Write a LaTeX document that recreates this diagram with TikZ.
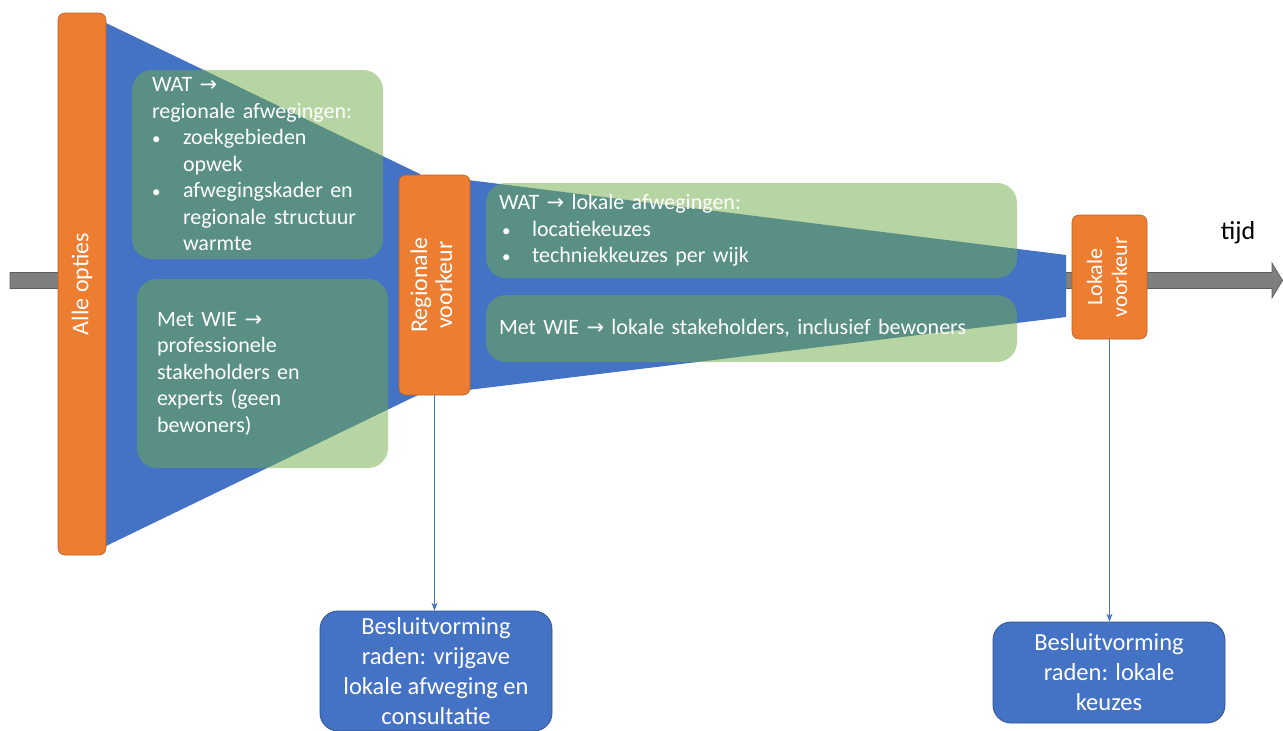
\documentclass[tikz,border=0pt]{standalone}
\usepackage{fontspec}
\usepackage{graphicx}
\setmainfont{Carlito}
\newfontfamily\symfont{DejaVu Sans}
\usetikzlibrary{arrows.meta}
\definecolor{cOrange}{HTML}{ED7D31}
\definecolor{cOrangeD}{HTML}{B9622A}
\definecolor{cBlue}{HTML}{4472C4}
\definecolor{cBlueD}{HTML}{2F528F}
\definecolor{cGreen}{HTML}{70AD47}
\definecolor{cGray}{HTML}{7F7F7F}
\definecolor{cGrayD}{HTML}{5E5E5E}
\newcommand\arr{{\symfont\fontsize{21}{22}\selectfont →}}
\newcommand\bdot{{\fontsize{17}{20}\selectfont •}}
\newcommand\bul[2]{\mbox{\makebox[#1][l]{\bdot}#2}}
\newcommand\cont[2]{\mbox{\hspace*{#1}#2}}
\begin{document}
\begin{tikzpicture}[x=1pt,y=-1pt,
  gbox/.style={rounded corners=20pt, fill=cGreen, fill opacity=0.5, text opacity=1,
    text=white, align=left, inner ysep=0pt, font=\fontsize{22}{26.5}\selectfont},
  obox/.style={fill=cOrange, draw=cOrangeD, line width=0.6pt, rounded corners=7pt,
    text=white, inner sep=0pt, align=center},
  bbox/.style={fill=cBlue, draw=cBlueD, line width=0.8pt, rounded corners=18pt,
    text=white, inner sep=0pt, align=center, font=\fontsize{24.5}{30}\selectfont},
  conn/.style={draw=cBlue, line width=0.9pt, -{Stealth[length=8pt,width=6pt]}},
  funnel/.style={fill=cBlue, draw=none}
]
\useasboundingbox[fill=white] (0,0) rectangle (1283,731);

% time arrow
\fill[cGray, draw=cGrayD, line width=0.6pt]
  (10,272.5) -- (1272,272.5) -- (1272,263) -- (1282.6,280.5) -- (1272,298)
  -- (1272,288.5) -- (10,288.5) -- cycle;

% funnel
\path[funnel] (106,23) -- (420,174) -- (420,394) -- (106,546) -- cycle;
\path[funnel] (468,180) -- (1066,255) -- (1066,317) -- (468,390) -- cycle;

% green boxes
\node[gbox, minimum width=251pt, minimum height=189pt, text width=211pt, inner xsep=20pt]
  (g1) at (257.5,164.5) {%
  \mbox{WAT \arr}\\
  \mbox{regionale afwegingen:}\\
  \bul{31pt}{zoekgebieden}\\
  \cont{31pt}{opwek}\\
  \bul{31pt}{afwegingskader en}\\
  \cont{31pt}{regionale structuur}\\
  \cont{31pt}{warmte}};
\node[gbox, minimum width=251pt, minimum height=189pt, text width=211pt, inner xsep=20pt]
  (g2) at (262.5,373.5) {%
  \mbox{Met WIE \arr}\\
  \mbox{professionele}\\
  \mbox{stakeholders en}\\
  \mbox{experts (geen}\\
  \mbox{bewoners)}};
\node[gbox, minimum width=531pt, minimum height=95pt, text width=505pt, inner xsep=13pt]
  (g3) at (751.5,230.5) {%
  \mbox{WAT \arr{} lokale afwegingen:}\\
  \mbox{\hspace*{3pt}\makebox[30pt][l]{\bdot}locatiekeuzes}\\
  \mbox{\hspace*{3pt}\makebox[30pt][l]{\bdot}techniekkeuzes per wijk}};
\node[gbox, minimum width=531pt, minimum height=67pt, text width=505pt, inner xsep=13pt]
  (g4) at (751.5,328.5) {%
  \mbox{Met WIE \arr{} lokale stakeholders, inclusief bewoners}};

% orange boxes
\node[obox, minimum width=48pt, minimum height=542pt] (alle) at (82,284)
  {\rotatebox{90}{\fontsize{24}{26}\selectfont Alle opties}};
\node[obox, minimum width=71pt, minimum height=220pt] (reg) at (434.5,285)
  {\rotatebox{90}{\fontsize{24}{25}\selectfont\begin{tabular}{@{}c@{}}Regionale\\voorkeur\end{tabular}}};
\node[obox, minimum width=75pt, minimum height=124pt] (lok) at (1109.5,277)
  {\rotatebox{90}{\fontsize{22}{25}\selectfont\begin{tabular}{@{}c@{}}Lokale\\voorkeur\end{tabular}}};

% decision boxes
\node[bbox, minimum width=232pt, minimum height=120pt] (b1) at (436,671)
  {Besluitvorming\\raden: vrijgave\\lokale afweging en\\consultatie};
\node[bbox, minimum width=232pt, minimum height=101pt] (b2) at (1109,672.5)
  {Besluitvorming\\raden: lokale\\keuzes};

\draw[conn] (reg.south) -- (reg.south |- b1.north);
\draw[conn] (lok.south) -- (lok.south |- b2.north);

\node[font=\fontsize{26}{30}\selectfont, text=black] (tijd) at (1238,233) {tijd};
\end{tikzpicture}
\end{document}
